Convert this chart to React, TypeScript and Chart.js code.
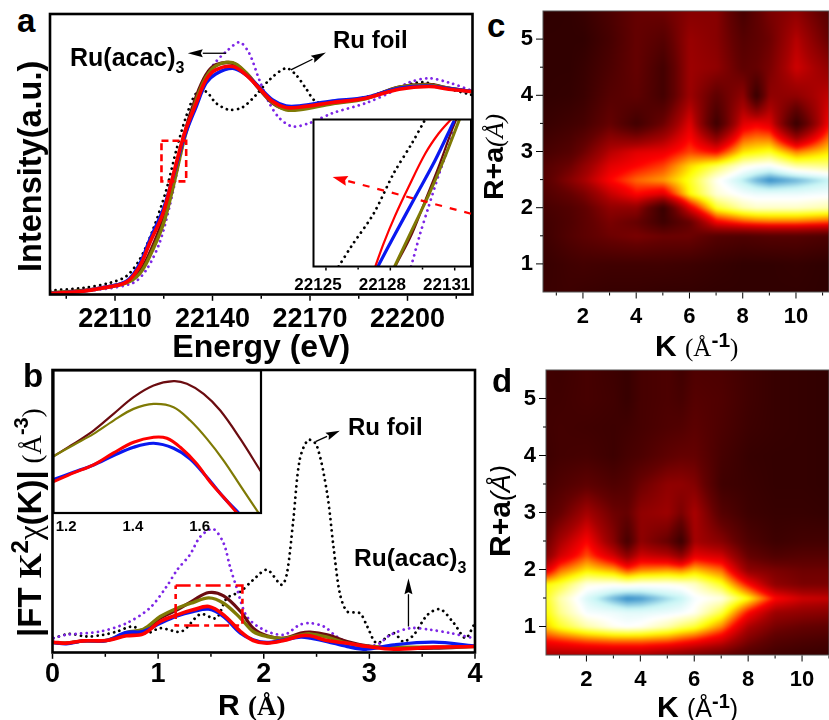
import React, { useEffect, useRef } from "react";
import { Chart, registerables } from "chart.js";

Chart.register(...registerables);

const FONT = '"Liberation Sans", Arial, sans-serif';
const SERIF = '"Liberation Serif", "Times New Roman", serif';

/* ---------- panel a: main ---------- */
const aEnergy = [22090, 22100.2, 22105.3, 22113.5, 22117.6, 22120.7, 22124.8, 22127.8, 22131.4, 22135, 22138, 22141, 22146.2, 22150.3, 22154.4, 22158.5, 22162.6, 22166.7, 22176.9, 22187.1, 22197.4, 22206.6, 22212.7, 22219.7];
const aRed = [3, 10, 18, 37, 85, 155, 245, 355, 485, 575, 645, 675, 685, 660, 620, 580, 562, 563, 577, 590, 617, 625, 617, 610];
const aBlue = [3, 10, 19, 40, 92, 165, 255, 352, 475, 565, 635, 663, 680, 660, 623, 585, 567, 567, 582, 592, 620, 627, 619, 610];
const aBrown = [5, 12, 19, 37, 70, 125, 225, 335, 485, 595, 660, 690, 695, 665, 617, 575, 557, 559, 575, 590, 623, 631, 620, 610];
const aOlive = [5, 11, 18, 35, 63, 115, 210, 320, 470, 585, 653, 687, 697, 667, 620, 577, 555, 555, 573, 588, 623, 630, 620, 609];
const aFoilX = [22090, 22100.2, 22108.4, 22113.5, 22117.6, 22121.7, 22125.8, 22128.9, 22131.9, 22135, 22138, 22141.1, 22145.2, 22149.3, 22153.4, 22157.5, 22162.6, 22165.7, 22168.7, 22171.8, 22176.9, 22187.1, 22197.4, 22204.5, 22210.7, 22219.7];
const aFoilY = [12, 20, 35, 55, 105, 195, 315, 435, 535, 605, 610, 575, 555, 563, 600, 645, 680, 660, 620, 580, 575, 593, 623, 638, 623, 600];
const aAcacX = [22090, 22105.3, 22115.6, 22119.7, 22123.7, 22126.8, 22129.9, 22131.9, 22135, 22138.1, 22141.1, 22144.2, 22148.3, 22151.3, 22154.4, 22157.5, 22160.6, 22164.6, 22169.8, 22176.9, 22187.1, 22195.3, 22200.4, 22206.6, 22212.7, 22219.7];
const aAcacY = [5, 15, 35, 75, 155, 265, 405, 495, 595, 660, 700, 730, 758, 725, 645, 575, 530, 505, 515, 545, 575, 610, 637, 650, 637, 613];
const aRectX = [22124.3, 22131.9];
const aRectY = [340, 462];

/* ---------- panel a: inset ---------- */
const iaFoilX = [22125.59, 22126.21, 22127.22, 22128.15, 22129.0, 22129.58];
const iaFoilY = [0, 63, 158, 278, 368, 435];
const iaRedX = [22127.3, 22127.68, 22128.23, 22128.85, 22129.63, 22130.25, 22130.82];
const iaRedY = [0, 68, 153, 238, 338, 398, 440];
const iaBlueX = [22127.42, 22128.23, 22129.16, 22130.09, 22130.95];
const iaBlueY = [0, 98, 208, 318, 433];
const iaBrownX = [22128.23, 22129.01, 22129.63, 22130.25, 22130.87, 22131.06];
const iaBrownY = [0, 98, 198, 298, 408, 438];
const iaOliveX = [22128.2, 22129.0, 22129.78, 22130.48, 22131.21];
const iaOliveY = [0, 108, 213, 318, 438];
const iaAcacX = [22128.97, 22129.39, 22129.78, 22130.25, 22130.72, 22130.95];
const iaAcacY = [0, 98, 178, 273, 358, 408];

/* ---------- panel b: main ---------- */
const bR = [0.01, 0.13, 0.29, 0.51, 0.7, 0.86, 1.02, 1.18, 1.33, 1.48, 1.62, 1.78, 1.9, 2.03, 2.19, 2.35, 2.44, 2.6, 2.79, 2.98, 3.23, 3.61, 3.99];
const bBrown = [30, 28, 35, 36, 53, 63, 103, 128, 156, 180, 170, 123, 73, 50, 43, 58, 61, 53, 33, 20, 13, 13, 18];
const bOlive = [30, 28, 35, 36, 60, 70, 108, 133, 150, 164, 148, 103, 63, 48, 42, 53, 56, 46, 28, 18, 16, 16, 18];
const bBlue = [30, 26, 35, 36, 60, 63, 88, 110, 123, 130, 108, 58, 38, 30, 38, 46, 43, 33, 18, 10, 23, 31, 20];
const bRed = [31, 28, 35, 36, 50, 56, 93, 113, 128, 138, 113, 63, 36, 28, 36, 50, 50, 36, 28, 18, 10, 16, 18];
const bAcacX = [0.01, 0.13, 0.45, 0.7, 0.92, 1.08, 1.18, 1.3, 1.4, 1.52, 1.62, 1.68, 1.74, 1.84, 2.0, 2.19, 2.34, 2.44, 2.57, 2.69, 2.85, 3.07, 3.2, 3.39, 3.58, 3.77, 3.99];
const bAcacY = [43, 53, 63, 88, 133, 198, 248, 293, 348, 371, 328, 258, 198, 108, 68, 53, 83, 88, 78, 48, 23, 23, 53, 73, 68, 58, 43];
const bFoilX = [0.01, 0.16, 0.32, 0.48, 0.61, 0.76, 0.89, 1.02, 1.22, 1.4, 1.55, 1.65, 1.78, 1.9, 2.03, 2.17, 2.22, 2.28, 2.34, 2.42, 2.5, 2.6, 2.66, 2.72, 2.79, 2.91, 2.98, 3.07, 3.23, 3.32, 3.42, 3.55, 3.67, 3.8, 3.91, 3.99];
const bFoilY = [43, 56, 48, 53, 63, 78, 58, 73, 63, 115, 103, 163, 183, 218, 248, 203, 238, 398, 578, 638, 623, 478, 318, 178, 123, 118, 78, 28, 58, 33, 53, 113, 130, 88, 43, 83];
const bRectX = [1.166, 1.798];
const bRectY = [81, 201];

/* ---------- panel b: inset ---------- */
const ibBrownX = [1.162, 1.222, 1.282, 1.342, 1.402, 1.462, 1.522, 1.562, 1.612, 1.662, 1.722, 1.782];
const ibBrownY = [170, 207, 247, 297, 347, 382, 395, 387, 357, 307, 222, 127];
const ibOliveX = [1.162, 1.222, 1.282, 1.342, 1.402, 1.462, 1.522, 1.572, 1.622, 1.672, 1.722, 1.777];
const ibOliveY = [170, 204, 237, 277, 312, 327, 317, 277, 222, 157, 82, 0];
const ibBlueX = [1.162, 1.222, 1.282, 1.342, 1.402, 1.462, 1.522, 1.572, 1.622, 1.672, 1.717];
const ibBlueY = [100, 122, 144, 172, 197, 209, 194, 162, 107, 47, 0];
const ibRedX = [1.162, 1.222, 1.282, 1.342, 1.402, 1.462, 1.502, 1.542, 1.592, 1.632, 1.672, 1.712];
const ibRedY = [94, 120, 144, 180, 212, 227, 224, 197, 147, 92, 47, 0];

/* ---------- panel c: wavelet grid ---------- */
const cK = [0.5, 1.5, 2, 3, 4, 5, 6, 7, 8, 8.5, 9, 10, 11.25];
const cR = [0.5, 1, 1.5, 1.75, 2, 2.25, 2.5, 2.75, 3, 3.5, 4, 4.5, 5, 5.5];
const cZ = [
  [0.06, 0.07, 0.06, 0.05, 0.05, 0.04, 0.04, 0.03, 0.03, 0.03, 0.03, 0.03, 0.02],
  [0.05, 0.08, 0.09, 0.08, 0.08, 0.08, 0.07, 0.05, 0.03, 0.03, 0.03, 0.04, 0.02],
  [0.07, 0.14, 0.17, 0.22, 0.25, 0.22, 0.22, 0.15, 0.13, 0.14, 0.15, 0.15, 0.12],
  [0.08, 0.13, 0.17, 0.25, 0.2, 0.07, 0.2, 0.48, 0.55, 0.57, 0.58, 0.58, 0.55],
  [0.1, 0.14, 0.18, 0.3, 0.3, 0.05, 0.45, 0.72, 0.8, 0.82, 0.82, 0.82, 0.8],
  [0.13, 0.2, 0.25, 0.4, 0.5, 0.45, 0.7, 0.83, 0.87, 0.88, 0.88, 0.88, 0.87],
  [0.15, 0.28, 0.35, 0.5, 0.58, 0.62, 0.72, 0.85, 0.93, 0.97, 1.0, 0.97, 0.92],
  [0.14, 0.22, 0.3, 0.45, 0.5, 0.55, 0.67, 0.75, 0.84, 0.86, 0.87, 0.8, 0.78],
  [0.1, 0.15, 0.22, 0.38, 0.45, 0.47, 0.55, 0.5, 0.68, 0.7, 0.72, 0.6, 0.68],
  [0.05, 0.08, 0.1, 0.2, 0.08, 0.22, 0.45, 0.07, 0.45, 0.48, 0.45, 0.05, 0.5],
  [0.03, 0.04, 0.06, 0.15, 0.18, 0.09, 0.33, 0.18, 0.3, 0.05, 0.3, 0.3, 0.4],
  [0.03, 0.03, 0.05, 0.12, 0.2, 0.09, 0.33, 0.3, 0.18, 0.2, 0.25, 0.42, 0.3],
  [0.03, 0.03, 0.03, 0.1, 0.2, 0.15, 0.32, 0.28, 0.15, 0.18, 0.22, 0.38, 0.2],
  [0.02, 0.03, 0.05, 0.12, 0.2, 0.22, 0.28, 0.28, 0.1, 0.18, 0.25, 0.3, 0.15],
];

/* ---------- panel d: wavelet grid ---------- */
const dK = [0.5, 1, 2, 3, 3.5, 4, 5, 5.5, 6, 7, 8, 9, 10, 11];
const dR = [0.5, 0.75, 1, 1.25, 1.5, 1.75, 2, 2.25, 2.5, 3, 3.5, 4, 4.5, 5, 5.5];
const dZ = [
  [0.35, 0.35, 0.35, 0.35, 0.35, 0.35, 0.3, 0.28, 0.25, 0.2, 0.13, 0.08, 0.06, 0.05],
  [0.5, 0.52, 0.56, 0.58, 0.58, 0.58, 0.56, 0.53, 0.5, 0.42, 0.25, 0.15, 0.12, 0.1],
  [0.66, 0.72, 0.8, 0.85, 0.86, 0.85, 0.8, 0.76, 0.73, 0.6, 0.36, 0.24, 0.2, 0.18],
  [0.7, 0.78, 0.87, 0.88, 0.89, 0.89, 0.88, 0.87, 0.85, 0.74, 0.5, 0.33, 0.3, 0.28],
  [0.72, 0.8, 0.9, 0.97, 1.0, 0.99, 0.94, 0.92, 0.87, 0.84, 0.7, 0.5, 0.42, 0.4],
  [0.7, 0.73, 0.84, 0.85, 0.84, 0.85, 0.85, 0.84, 0.82, 0.72, 0.5, 0.3, 0.25, 0.25],
  [0.45, 0.58, 0.68, 0.63, 0.55, 0.6, 0.62, 0.6, 0.65, 0.58, 0.3, 0.25, 0.22, 0.22],
  [0.28, 0.42, 0.56, 0.42, 0.3, 0.42, 0.38, 0.3, 0.46, 0.42, 0.2, 0.13, 0.15, 0.15],
  [0.22, 0.35, 0.5, 0.28, 0.1, 0.3, 0.2, 0.06, 0.35, 0.28, 0.13, 0.07, 0.09, 0.09],
  [0.15, 0.2, 0.35, 0.22, 0.2, 0.3, 0.33, 0.25, 0.36, 0.15, 0.07, 0.05, 0.05, 0.04],
  [0.1, 0.13, 0.18, 0.13, 0.15, 0.22, 0.3, 0.3, 0.27, 0.08, 0.06, 0.04, 0.04, 0.03],
  [0.07, 0.09, 0.1, 0.07, 0.1, 0.12, 0.18, 0.2, 0.2, 0.1, 0.05, 0.04, 0.04, 0.03],
  [0.08, 0.09, 0.08, 0.07, 0.08, 0.1, 0.13, 0.14, 0.17, 0.12, 0.07, 0.05, 0.04, 0.03],
  [0.08, 0.08, 0.1, 0.08, 0.05, 0.1, 0.12, 0.1, 0.15, 0.13, 0.08, 0.05, 0.04, 0.03],
  [0.08, 0.07, 0.1, 0.07, 0.05, 0.1, 0.12, 0.08, 0.13, 0.12, 0.08, 0.05, 0.04, 0.03],
];

const xTicksA = [22110, 22140, 22170, 22200];
const xMinorA = [22095, 22125, 22155, 22185, 22215];
const xTicksIA = [22125, 22128, 22131];
const xMinorIA = [22126.5, 22129.5];
const xTicksB = [0, 1, 2, 3, 4];
const xMinorB = [0.5, 1.5, 2.5, 3.5];
const xTicksIB = [1.2, 1.4, 1.6];
const kTicks = [2, 4, 6, 8, 10];
const kMinor = [1, 3, 5, 7, 9, 11];
const rTicks = [1, 2, 3, 4, 5];
const rMinor = [1.5, 2.5, 3.5, 4.5];

const RED = "#ff0000";
const BLUE = "#0a18f0";
const BROWN = "#6b0c10";
const OLIVE = "#7f7a05";
const PURPLE = "#7d25e6";
const BLACK = "#000000";

const pairs = (xs: number[], ys: number[]) => xs.map((x, i) => ({ x, y: ys[i] }));
const rectPath = (xs: number[], ys: number[]) => [
  { x: xs[0], y: ys[1] },
  { x: xs[1], y: ys[1] },
  { x: xs[1], y: ys[0] },
  { x: xs[0], y: ys[0] },
  { x: xs[0], y: ys[1] },
];
const solid = (label: string, data: any[], color: string, w: number) => ({
  label, data, borderColor: color, borderWidth: w, pointRadius: 0, tension: 0.35, borderCapStyle: "round", borderJoinStyle: "round",
});
const dotted = (label: string, data: any[], color: string, w = 2.8, gap = 5.6) => ({
  label, data, borderColor: color, borderWidth: w, pointRadius: 0, tension: 0.3, borderDash: [0.01, gap], borderCapStyle: "round",
});
const box = (label: string, data: any[], dash: number[], w = 2.6) => ({
  label, data, borderColor: RED, borderWidth: w, pointRadius: 0, tension: 0, borderDash: dash,
});

/* ---------- colour map of the wavelet maps ---------- */
const stops: [number, number[]][] = [
  [0, [40, 0, 0]],
  [0.2, [100, 0, 0]],
  [0.35, [165, 0, 0]],
  [0.5, [255, 0, 0]],
  [0.6, [255, 130, 0]],
  [0.7, [255, 255, 0]],
  [0.8, [255, 255, 170]],
  [0.86, [255, 255, 255]],
  [0.92, [200, 245, 245]],
  [1, [50, 140, 200]],
];
function colorAt(z: number) {
  const v = Math.max(0, Math.min(1, z));
  for (let i = 1; i < stops.length; i++) {
    if (v <= stops[i][0]) {
      const t = (v - stops[i - 1][0]) / (stops[i][0] - stops[i - 1][0]);
      return stops[i][1].map((c, j) => stops[i - 1][1][j] + (c - stops[i - 1][1][j]) * t);
    }
  }
  return stops[stops.length - 1][1];
}
function locate(arr: number[], v: number) {
  if (v <= arr[0]) return [0, 0];
  const n = arr.length - 1;
  if (v >= arr[n]) return [n - 1, 1];
  let i = 0;
  while (arr[i + 1] < v) i++;
  return [i, (v - arr[i]) / (arr[i + 1] - arr[i])];
}

const heatPlugin = {
  id: "heat",
  beforeDatasetsDraw(chart: any, _a: any, o: any) {
    if (!o || !o.z) return;
    const { ctx, chartArea: ca, scales } = chart;
    const m = 8;
    const w = Math.ceil(ca.right - ca.left) + 2 * m;
    const h = Math.ceil(ca.bottom - ca.top) + 2 * m;
    const off = document.createElement("canvas");
    off.width = w;
    off.height = h;
    const oc = off.getContext("2d") as CanvasRenderingContext2D;
    const img = oc.createImageData(w, h);
    for (let py = 0; py < h; py++) {
      const [ri, rt] = locate(o.r, scales.y.getValueForPixel(ca.top - m + py));
      for (let px = 0; px < w; px++) {
        const [ki, kt] = locate(o.k, scales.x.getValueForPixel(ca.left - m + px));
        const a = o.z[ri][ki] * (1 - kt) + o.z[ri][ki + 1] * kt;
        const b = o.z[ri + 1][ki] * (1 - kt) + o.z[ri + 1][ki + 1] * kt;
        const c = colorAt(a * (1 - rt) + b * rt);
        const p = (py * w + px) * 4;
        img.data[p] = c[0];
        img.data[p + 1] = c[1];
        img.data[p + 2] = c[2];
        img.data[p + 3] = 255;
      }
    }
    oc.putImageData(img, 0, 0);
    ctx.save();
    ctx.beginPath();
    ctx.rect(ca.left, ca.top, ca.right - ca.left, ca.bottom - ca.top);
    ctx.clip();
    ctx.filter = "blur(1.6px)";
    ctx.drawImage(off, ca.left - m, ca.top - m);
    ctx.restore();
  },
};

const framePlugin = {
  id: "frameTicks",
  beforeDatasetsDraw(chart: any, _a: any, o: any) {
    if (o && o.fill) {
      const { ctx, chartArea: ca } = chart;
      ctx.save();
      ctx.fillStyle = o.fill;
      ctx.fillRect(ca.left, ca.top, ca.right - ca.left, ca.bottom - ca.top);
      ctx.restore();
    }
  },
  afterDatasetsDraw(chart: any, _a: any, o: any) {
    if (!o) return;
    const { ctx, chartArea: ca, scales } = chart;
    ctx.save();
    ctx.strokeStyle = o.color || BLACK;
    if (o.width) {
      ctx.lineWidth = o.width;
      ctx.strokeRect(ca.left, ca.top, ca.right - ca.left, ca.bottom - ca.top);
    }
    ctx.lineWidth = o.tickWidth || 1.5;
    ctx.strokeStyle = BLACK;
    const off = (o.width || 0) / 2;
    if (o.xMajor) {
      for (const t of scales.x.ticks) {
        const len = (o.xMajorValues || []).includes(t.value) ? o.xMajor : o.xMinor;
        const x = scales.x.getPixelForValue(t.value);
        ctx.beginPath();
        ctx.moveTo(x, ca.bottom + off);
        ctx.lineTo(x, ca.bottom + off + len);
        ctx.stroke();
      }
    }
    if (o.yMajor) {
      for (const t of scales.y.ticks) {
        const len = (o.yMajorValues || []).includes(t.value) ? o.yMajor : o.yMinor;
        const y = scales.y.getPixelForValue(t.value);
        ctx.beginPath();
        ctx.moveTo(ca.left, y);
        ctx.lineTo(ca.left - len, y);
        ctx.stroke();
      }
    }
    ctx.restore();
  },
};

const arrowPlugin = {
  id: "arrows",
  afterDatasetsDraw(chart: any, _a: any, o: any) {
    if (!o || !o.list) return;
    const { ctx, scales } = chart;
    for (const a of o.list) {
      const x1 = scales.x.getPixelForValue(a.from[0]);
      const y1 = scales.y.getPixelForValue(a.from[1]);
      const x2 = scales.x.getPixelForValue(a.to[0]);
      const y2 = scales.y.getPixelForValue(a.to[1]);
      const ang = Math.atan2(y2 - y1, x2 - x1);
      const hl = a.head;
      const hw = a.headWidth;
      const bx = x2 - Math.cos(ang) * hl;
      const by = y2 - Math.sin(ang) * hl;
      ctx.save();
      ctx.strokeStyle = a.color;
      ctx.fillStyle = a.color;
      ctx.lineWidth = a.width;
      ctx.setLineDash(a.dash || []);
      ctx.beginPath();
      ctx.moveTo(x1, y1);
      ctx.lineTo(bx, by);
      ctx.stroke();
      ctx.setLineDash([]);
      ctx.beginPath();
      ctx.moveTo(x2, y2);
      ctx.lineTo(bx - Math.sin(ang) * hw, by + Math.cos(ang) * hw);
      ctx.lineTo(bx + Math.cos(ang) * 2, by + Math.sin(ang) * 2);
      ctx.lineTo(bx + Math.sin(ang) * hw, by - Math.cos(ang) * hw);
      ctx.closePath();
      ctx.fill();
      ctx.restore();
    }
  },
};

type Spec = {
  id: string;
  plot: [number, number, number, number]; // left, top, right, bottom on the page
  margins: [number, number, number, number]; // left, top, right, bottom around the plot
  xRange: [number, number];
  yRange: [number, number];
  xMajor: number[];
  xMinor?: number[];
  yMajor?: number[];
  yMinor?: number[];
  tickFont: number;
  tickPad?: number;
  labelOffset?: number;
  xTitle?: { text: string; size: number; pad: number };
  datasets: any[];
  plugins: any;
};

function Panel({ spec }: { spec: Spec }) {
  const ref = useRef<HTMLCanvasElement>(null);
  const [l, t, r, b] = spec.plot;
  const cLeft = Math.floor(l - spec.margins[0]);
  const cTop = Math.floor(t - spec.margins[1]);
  const cW = Math.ceil(r + spec.margins[2]) - cLeft;
  const cH = Math.ceil(b + spec.margins[3]) - cTop;
  const ml = l - cLeft;
  const mt = t - cTop;
  const mr = cLeft + cW - r;
  const mb = cTop + cH - b;
  useEffect(() => {
    const flat = (s: any) => {
      s.paddingLeft = 0;
      s.paddingRight = 0;
      s.paddingTop = 0;
      s.paddingBottom = 0;
    };
    const chart = new Chart(ref.current as HTMLCanvasElement, {
      type: "line",
      data: { datasets: spec.datasets },
      plugins: [heatPlugin, framePlugin, arrowPlugin],
      options: {
        animation: false,
        responsive: false,
        maintainAspectRatio: false,
        layout: { padding: { left: 0, top: mt, right: mr, bottom: 0 } },
        plugins: { legend: { display: false }, tooltip: { enabled: false }, ...spec.plugins },
        scales: {
          x: {
            type: "linear",
            min: spec.xRange[0],
            max: spec.xRange[1],
            grid: { display: false, drawTicks: false },
            border: { display: false },
            afterBuildTicks: (s: any) => {
              s.ticks = [...spec.xMajor, ...(spec.xMinor || [])].sort((p, q) => p - q).map((value) => ({ value }));
            },
            afterFit: (s: any) => { s.height = mb; flat(s); },
            ticks: {
              autoSkip: false,
              maxRotation: 0,
              minRotation: 0,
              padding: spec.tickPad ?? 4,
              labelOffset: spec.labelOffset ?? 0,
              color: BLACK,
              font: { family: FONT, weight: "bold", size: spec.tickFont },
              callback: (v: any) => (spec.xMajor.includes(v) ? String(v) : ""),
            },
            title: spec.xTitle
              ? {
                  display: true,
                  text: spec.xTitle.text,
                  color: BLACK,
                  padding: { top: 0, bottom: spec.xTitle.pad },
                  font: { family: FONT, weight: "bold", size: spec.xTitle.size },
                }
              : { display: false },
          },
          y: {
            type: "linear",
            min: spec.yRange[0],
            max: spec.yRange[1],
            grid: { display: false, drawTicks: false },
            border: { display: false },
            afterBuildTicks: (s: any) => {
              s.ticks = [...(spec.yMajor || []), ...(spec.yMinor || [])].sort((p, q) => p - q).map((value) => ({ value }));
            },
            afterFit: (s: any) => { s.width = ml; flat(s); },
            ticks: {
              display: !!spec.yMajor,
              autoSkip: false,
              padding: 10,
              color: BLACK,
              font: { family: FONT, weight: "bold", size: spec.tickFont },
              callback: (v: any) => ((spec.yMajor || []).includes(v) ? String(v) : ""),
            },
          },
        },
      } as any,
    });
    return () => chart.destroy();
  }, [spec]);
  return (
    <canvas
      ref={ref}
      width={cW}
      height={cH}
      style={{ position: "absolute", left: cLeft, top: cTop, display: "block" }}
    />
  );
}

const panelA: Spec = {
  id: "a",
  plot: [50, 14, 472.5, 294.5],
  margins: [4, 4, 4, 72],
  xRange: [22090, 22220],
  yRange: [0, 843],
  xMajor: xTicksA,
  xMinor: xMinorA,
  tickFont: 27,
  tickPad: 9,
  xTitle: { text: "Energy (eV)", size: 32, pad: 0 },
  datasets: [
    box("a zoom box", rectPath(aRectX, aRectY), [7, 4]),
    solid("sample red", pairs(aEnergy, aRed), RED, 3.6),
    solid("sample blue", pairs(aEnergy, aBlue), BLUE, 3.4),
    solid("sample olive", pairs(aEnergy, aOlive), OLIVE, 3.4),
    solid("sample brown", pairs(aEnergy, aBrown), BROWN, 3.4),
    dotted("Ru(acac)3", pairs(aAcacX, aAcacY), PURPLE),
    dotted("Ru foil", pairs(aFoilX, aFoilY), BLACK),
  ],
  plugins: {
    frameTicks: { width: 2.6, xMajor: 5, xMinor: 3, xMajorValues: xTicksA },
    arrows: {
      list: [
        { from: [22144.2, 725], to: [22132.4, 725], color: BLACK, width: 1.3, head: 15, headWidth: 4 },
        { from: [22164.1, 675], to: [22174.9, 727], color: BLACK, width: 1.3, head: 15, headWidth: 4 },
      ],
    },
  },
};

const insetA: Spec = {
  id: "ia",
  plot: [313.5, 119.5, 471, 266.5],
  margins: [24, 3, 3, 30],
  xRange: [22124.42, 22131.76],
  yRange: [0, 440],
  xMajor: xTicksIA,
  xMinor: xMinorIA,
  tickFont: 17,
  tickPad: 9,
  labelOffset: -8,
  datasets: [
    solid("red", pairs(iaRedX, iaRedY), RED, 2.2),
    solid("blue", pairs(iaBlueX, iaBlueY), BLUE, 3.2),
    solid("olive", pairs(iaOliveX, iaOliveY), OLIVE, 3),
    solid("brown", pairs(iaBrownX, iaBrownY), BROWN, 2.2),
    dotted("Ru(acac)3", pairs(iaAcacX, iaAcacY), PURPLE, 2.8, 5.8),
    dotted("Ru foil", pairs(iaFoilX, iaFoilY), BLACK, 2.8, 5.8),
  ],
  plugins: {
    frameTicks: { fill: "#ffffff", width: 2, xMajor: 3, xMinor: 2, xMajorValues: xTicksIA },
    arrows: {
      list: [
        { from: [22131.76, 158], to: [22125.31, 268], color: RED, width: 2.2, dash: [7, 8], head: 15, headWidth: 5 },
      ],
    },
  },
};

const panelB: Spec = {
  id: "b",
  plot: [52.5, 370, 475, 652.5],
  margins: [14, 4, 14, 40],
  xRange: [0, 4],
  yRange: [0, 848],
  xMajor: xTicksB,
  xMinor: xMinorB,
  tickFont: 27,
  tickPad: 6,
  datasets: [
    box("b zoom box", rectPath(bRectX, bRectY), [15, 5, 5, 5]),
    solid("sample red", pairs(bR, bRed), RED, 3.6),
    solid("sample blue", pairs(bR, bBlue), BLUE, 3.4),
    solid("sample olive", pairs(bR, bOlive), OLIVE, 3.4),
    solid("sample brown", pairs(bR, bBrown), BROWN, 3.2),
    dotted("Ru(acac)3", pairs(bAcacX, bAcacY), PURPLE),
    dotted("Ru foil", pairs(bFoilX, bFoilY), BLACK),
  ],
  plugins: {
    frameTicks: { width: 2.6, xMajor: 5, xMinor: 3, xMajorValues: xTicksB },
    arrows: {
      list: [
        { from: [2.49, 633], to: [2.72, 666], color: BLACK, width: 1.3, head: 14, headWidth: 4 },
        { from: [3.37, 78], to: [3.37, 223], color: BLACK, width: 1.3, head: 16, headWidth: 4 },
      ],
    },
  },
};

const insetB: Spec = {
  id: "ib",
  plot: [53.5, 370.5, 261, 513],
  margins: [3, 3, 3, 24],
  xRange: [1.162, 1.784],
  yRange: [0, 427],
  xMajor: xTicksIB,
  tickFont: 15,
  tickPad: 5,
  datasets: [
    solid("red", pairs(ibRedX, ibRedY), RED, 3),
    solid("blue", pairs(ibBlueX, ibBlueY), BLUE, 3.2),
    solid("olive", pairs(ibOliveX, ibOliveY), OLIVE, 2.2),
    solid("brown", pairs(ibBrownX, ibBrownY), BROWN, 2.2),
  ],
  plugins: { frameTicks: { fill: "#ffffff", width: 2.2 } },
};

const heatData = (k: number[], r: number[], z: number[][]) =>
  r.flatMap((y, i) => k.map((x, j) => ({ x, y, z: z[i][j] })));

const panelC: Spec = {
  id: "c",
  plot: [543, 11, 829, 292],
  margins: [30, 3, 0, 40],
  xRange: [0.5, 11.24],
  yRange: [0.5, 5.5],
  xMajor: kTicks,
  xMinor: kMinor,
  yMajor: rTicks,
  yMinor: rMinor,
  tickFont: 22,
  tickPad: 12,
  datasets: [{ label: "c map", data: heatData(cK, cR, cZ), pointRadius: 0, borderWidth: 0, showLine: false }],
  plugins: {
    heat: { k: cK, r: cR, z: cZ },
    frameTicks: { width: 1, color: "#555555", xMajor: 6, xMinor: 3, yMajor: 7, yMinor: 3, xMajorValues: kTicks, yMajorValues: rTicks, tickWidth: 1 },
  },
};

const panelD: Spec = {
  id: "d",
  plot: [546, 370, 829, 655],
  margins: [30, 3, 0, 40],
  xRange: [0.5, 11],
  yRange: [0.5, 5.5],
  xMajor: kTicks,
  xMinor: kMinor,
  yMajor: rTicks,
  yMinor: rMinor,
  tickFont: 22,
  tickPad: 12,
  datasets: [{ label: "d map", data: heatData(dK, dR, dZ), pointRadius: 0, borderWidth: 0, showLine: false }],
  plugins: {
    heat: { k: dK, r: dR, z: dZ },
    frameTicks: { width: 1, color: "#555555", xMajor: 6, xMinor: 3, yMajor: 7, yMinor: 3, xMajorValues: kTicks, yMajorValues: rTicks, tickWidth: 1 },
  },
};

/* text placed by its left end and its baseline */
function T({ x, y, size, children, weight = "bold", family = FONT, rotate = false }: any) {
  const base: any = {
    position: "absolute",
    whiteSpace: "nowrap",
    lineHeight: 1,
    fontFamily: family,
    fontWeight: weight,
    fontSize: size,
    color: "#000",
  };
  if (rotate) {
    return (
      <div style={{ ...base, left: x - 0.8465 * size, top: y, transform: "rotate(-90deg)", transformOrigin: "0 0" }}>{children}</div>
    );
  }
  return <div style={{ ...base, left: x, top: y - 0.8465 * size }}>{children}</div>;
}
const S = ({ size, family = SERIF, weight = "normal", children, up = 0 }: any) => (
  <span style={{ fontSize: size, fontFamily: family, fontWeight: weight, position: "relative", top: -up, lineHeight: 0 }}>{children}</span>
);

export default function App() {
  return (
    <div style={{ position: "absolute", left: 0, top: 0, width: 829, height: 720, overflow: "hidden", background: "#fff" }}>
      <Panel spec={panelA} />
      <Panel spec={insetA} />
      <Panel spec={panelB} />
      <Panel spec={insetB} />
      <Panel spec={panelC} />
      <Panel spec={panelD} />

      <T x={17} y={32} size={33}>a</T>
      <T x={23} y={387} size={33}>b</T>
      <T x={487} y={37} size={33}>c</T>
      <T x={492} y={392} size={33}>d</T>

      <T x={42} y={272} size={32.5} rotate>Intensity(a.u.)</T>

      <T x={70} y={66} size={25}>Ru(acac)<S size={16} family={FONT} weight="bold" up={-7}>3</S></T>
      <T x={333} y={48} size={24}>Ru foil</T>
      <T x={348} y={435} size={24}>Ru foil</T>
      <T x={354} y={567} size={24.5}>Ru(acac)<S size={16} family={FONT} weight="bold" up={-7}>3</S></T>

      <T x={41} y={637} size={33} rotate>
        |FT <S size={32} weight="bold">K</S>
        <S size={24} family={FONT} weight="bold" up={13}>2</S>
        <S size={33} family={SERIF} weight="normal">χ</S>(K)|
        <S size={27}> (Å</S>
        <S size={20} family={FONT} weight="bold" up={13}>-3</S>
        <S size={27}>)</S>
      </T>

      <T x={218} y={715} size={30}>R <S size={27} weight="bold">(Å)</S></T>

      <T x={655} y={356} size={30}>K <S size={25}>(Å</S><S size={21} family={FONT} weight="bold" up={9}>-1</S><S size={25}>)</S></T>
      <T x={657} y={717} size={30}>K <S size={25} family={FONT}>(Å</S><S size={20} family={FONT} weight="bold" up={9}>-1</S><S size={25} family={FONT}>)</S></T>

      <T x={503} y={200} size={28.5} rotate>R+a<S size={26} family={SERIF} weight="normal"><i>(Å)</i></S></T>
      <T x={510} y={557} size={30} weight="normal" rotate><b>R+a</b><S size={27} family={FONT}><i>(Å)</i></S></T>
    </div>
  );
}
